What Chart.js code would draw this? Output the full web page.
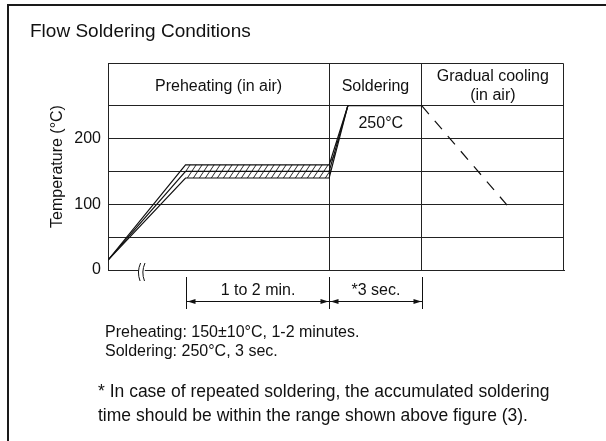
<!DOCTYPE html>
<html>
<head>
<meta charset="utf-8">
<title>Flow Soldering Conditions</title>
<script src="https://cdn.jsdelivr.net/npm/chart.js@4.4.1/dist/chart.umd.min.js"></script>
<style>
  html, body { margin: 0; padding: 0; background: #fff; }
</style>
</head>
<body>
<canvas id="flow" width="606" height="441"></canvas>
<script>
// Flow soldering profile: temperature (°C) over process time (arbitrary units, 0-100)
const profileTime = [0, 17, 48.5, 52.6];
const upperTemp = [15, 160, 160, 250];
const nominalTemp = [15, 150, 150, 250];
const lowerTemp = [15, 140, 140, 250];
const solderTime = [52.6, 68.8];
const solderTemp = [250, 250];
const coolTime = [68.8, 88.6];
const coolTemp = [250, 90];

// phases across the top of the plot
const phaseEdges = [0, 48.5, 68.8, 100];
const phaseNames = [["Preheating (in air)"], ["Soldering"], ["Gradual cooling", "(in air)"]];

// dimension spans under the time axis
const spanEdges = [17, 48.5, 68.8];
const spanLabels = ["1 to 2 min.", "*3 sec."];

const yTicks = [0, 50, 100, 150, 200, 250];
const yLabels = [0, 100, 200];
const axisBreak = 7.3;

const notes = [
  { text: "Preheating: 150\u00b110\u00b0C, 1-2 minutes.", x: 105, y: 337, size: 16 },
  { text: "Soldering: 250\u00b0C, 3 sec.", x: 105, y: 356, size: 16 },
  { text: "* In case of repeated soldering, the accumulated soldering", x: 98, y: 397, size: 17.5 },
  { text: "time should be within the range shown above figure (3).", x: 98, y: 421, size: 17.5 }
];

const FONT = '"Liberation Sans", Arial, Helvetica, sans-serif';
const INK = "#111";
const GRID = "#222";

Chart.defaults.font.family = FONT;
Chart.defaults.color = INK;

const pts = (xs, ys) => xs.map((x, i) => ({ x: x, y: ys[i] }));

// diagonal hatching for the preheat tolerance band
function hatchPattern() {
  const w = 6, h = 9;
  const c = document.createElement("canvas");
  c.width = w; c.height = h;
  const g = c.getContext("2d");
  g.strokeStyle = INK;
  g.lineWidth = 0.9;
  g.beginPath();
  [-w, 0, w].forEach(dx => {
    g.moveTo(dx - w, 2 * h);
    g.lineTo(dx + 2 * w, -h);
  });
  g.stroke();
  return g.createPattern(c, "repeat");
}

const ctx = document.getElementById("flow").getContext("2d");

const lineStyle = {
  borderColor: INK,
  borderWidth: 1.2,
  pointRadius: 0,
  tension: 0,
  fill: false
};

const decorations = {
  id: "decorations",
  beforeDraw(chart) {
    const c = chart.ctx;
    c.save();
    // outer frame
    c.strokeStyle = "#1a1a1a";
    c.lineWidth = 2;
    c.strokeRect(8, 5, 700, 500);
    // heading
    c.fillStyle = INK;
    c.font = "19px " + FONT;
    c.textAlign = "left";
    c.fillText("Flow Soldering Conditions", 30, 37);
    // notes
    notes.forEach(n => {
      c.font = n.size + "px " + FONT;
      c.fillText(n.text, n.x, n.y);
    });
    c.restore();
  },
  afterDraw(chart) {
    const c = chart.ctx;
    const xs = chart.scales.x, ys = chart.scales.y;
    const area = chart.chartArea;
    c.save();

    // top and right edge of the plot
    c.strokeStyle = GRID;
    c.lineWidth = 1;
    c.beginPath();
    c.moveTo(area.left, area.top + 0.5);
    c.lineTo(area.right - 0.5, area.top + 0.5);
    c.lineTo(area.right - 0.5, area.bottom);
    c.stroke();

    // phase headings
    c.fillStyle = INK;
    c.font = "16px " + FONT;
    c.textAlign = "center";
    const mid = (area.top + ys.getPixelForValue(250)) / 2;
    phaseNames.forEach((lines, i) => {
      const cx = (xs.getPixelForValue(phaseEdges[i]) + xs.getPixelForValue(phaseEdges[i + 1])) / 2;
      if (lines.length === 1) {
        c.fillText(lines[0], cx, mid + 6.5);
      } else {
        c.fillText(lines[0], cx, mid - 3);
        c.fillText(lines[1], cx, mid + 16);
      }
    });

    // peak temperature label
    const px = (xs.getPixelForValue(solderTime[0]) + xs.getPixelForValue(solderTime[1])) / 2 - 4;
    c.fillText(solderTemp[0] + "\u00b0C", px, ys.getPixelForValue(solderTemp[0]) + 22);

    // axis break on the time axis
    const bx = xs.getPixelForValue(axisBreak);
    const by = area.bottom;
    c.fillStyle = "#fff";
    c.fillRect(bx - 3, by - 2, 6.5, 4);
    c.strokeStyle = INK;
    c.lineWidth = 1;
    [-2.2, 2.2].forEach(dx => {
      c.beginPath();
      c.moveTo(bx + dx + 1.5, by - 7);
      c.quadraticCurveTo(bx + dx - 2.5, by + 2, bx + dx + 1, by + 11);
      c.stroke();
    });

    // dimension lines with arrows
    const dimY = by + 31.5;
    c.strokeStyle = INK;
    c.fillStyle = INK;
    spanEdges.forEach(v => {
      const x = Math.round(xs.getPixelForValue(v)) + 0.5;
      c.beginPath();
      c.moveTo(x, by + 7);
      c.lineTo(x, by + 39);
      c.stroke();
    });
    const arrow = (x, dir) => {
      c.beginPath();
      c.moveTo(x, dimY);
      c.lineTo(x + dir * 8, dimY - 2.5);
      c.lineTo(x + dir * 8, dimY + 2.5);
      c.closePath();
      c.fill();
    };
    c.font = "16px " + FONT;
    spanLabels.forEach((label, i) => {
      const x0 = Math.round(xs.getPixelForValue(spanEdges[i])) + 0.5;
      const x1 = Math.round(xs.getPixelForValue(spanEdges[i + 1])) + 0.5;
      c.beginPath();
      c.moveTo(x0, dimY);
      c.lineTo(x1, dimY);
      c.stroke();
      arrow(x0 + 1, 1);
      arrow(x1 - 1, -1);
      c.fillText(label, (x0 + x1) / 2, by + 25);
    });

    c.restore();
  }
};

new Chart(ctx, {
  type: "line",
  data: {
    datasets: [
      // hatched tolerance band (flat section and rise to peak)
      {
        data: pts(profileTime.slice(1), upperTemp.slice(1)),
        borderColor: "rgba(0,0,0,0)",
        backgroundColor: hatchPattern(),
        pointRadius: 0,
        tension: 0,
        fill: "+1"
      },
      {
        data: pts(profileTime.slice(1), lowerTemp.slice(1)),
        borderColor: "rgba(0,0,0,0)",
        pointRadius: 0,
        tension: 0,
        fill: false
      },
      Object.assign({ data: pts(profileTime, upperTemp) }, lineStyle),
      Object.assign({ data: pts(profileTime, nominalTemp) }, lineStyle),
      Object.assign({ data: pts(profileTime, lowerTemp) }, lineStyle),
      Object.assign({ data: pts(solderTime, solderTemp) }, lineStyle),
      Object.assign({ data: pts(coolTime, coolTemp), borderDash: [11, 9] }, lineStyle)
    ]
  },
  options: {
    responsive: false,
    animation: false,
    events: [],
    layout: { padding: { left: 0, right: 42, top: 63, bottom: 171 } },
    plugins: {
      legend: { display: false },
      tooltip: { enabled: false }
    },
    scales: {
      x: {
        type: "linear",
        min: 0,
        max: 100,
        afterBuildTicks: s => { s.ticks = [phaseEdges[1], phaseEdges[2]].map(v => ({ value: v })); },
        afterFit: s => { s.height = 0; },
        ticks: { display: false },
        grid: { color: GRID, lineWidth: 1, drawTicks: false },
        border: { color: GRID, width: 1 }
      },
      y: {
        min: 0,
        max: 315,
        afterBuildTicks: s => { s.ticks = yTicks.map(v => ({ value: v })); },
        afterFit: s => { s.width = 108; },
        ticks: {
          callback: v => (yLabels.includes(v) ? String(v) : ""),
          font: { size: 16 },
          color: INK,
          padding: 7
        },
        grid: { color: GRID, lineWidth: 1, drawTicks: false },
        border: { color: GRID, width: 1 },
        title: {
          display: true,
          text: "Temperature (\u00b0C)",
          font: { size: 16 },
          color: INK,
          padding: { top: 48, bottom: 0 }
        }
      }
    }
  },
  plugins: [decorations]
});
</script>
</body>
</html>
